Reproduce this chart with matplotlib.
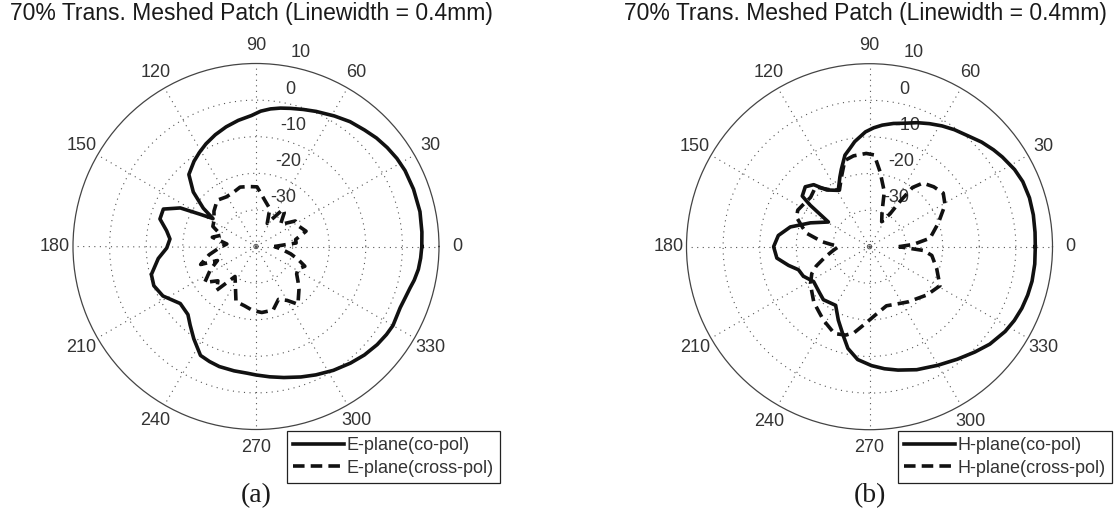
import numpy as np
import matplotlib
matplotlib.use("Agg")
import matplotlib.pyplot as plt
from matplotlib.lines import Line2D

plt.rcParams['font.family'] = ['Liberation Sans', 'DejaVu Sans']

# ---------------- data (angle in degrees, level in dB) ----------------
e_co_deg = [0, 5, 12, 20, 27, 32, 37, 42, 47, 53, 59, 66, 71, 76, 80, 84, 88, 92, 98, 104, 110, 116,
            121, 126, 133, 139, 144, 147, 150, 153, 158, 164, 170, 175, 181, 187, 195, 201, 208, 217,
            225, 230, 236, 243, 248, 253, 260, 266, 270, 276, 282, 289, 295, 302, 309, 315, 321, 326,
            330, 337, 341, 345, 348, 352, 356, 360]
e_co_db = [5.3, 5.5, 5.8, 5.8, 5.7, 5.4, 4.9, 4.3, 3.5, 2.7, 1.6, 0.4, -0.4, -1.1, -1.6, -2.2, -3.0,
           -4.2, -5.2, -6.3, -7.5, -8.8, -10.0, -11.2, -13.1, -17.3, -22.2, -26, -22.4, -16.8, -12.7,
           -12.7, -15.2, -16.4, -15.6, -13.1, -10.4, -10.1, -11.2, -14.1, -13.7, -12.0, -9.6, -6.6,
           -6.1, -5.7, -5.5, -5.3, -4.9, -4.2, -3.4, -2.3, -1.3, -0.1, 1.0, 1.9, 2.6, 3.0, 3.2, 2.8,
           3.1, 3.6, 4.2, 4.8, 5.1, 5.3]

e_x_deg = [0, 5, 10, 17, 25, 33, 42, 50, 54, 59, 64, 70, 79, 89, 97, 105, 113, 121, 130, 140,
           148, 155, 162, 168, 175, 182, 190, 198, 200, 207, 215, 222, 228, 235, 242, 250, 259, 267,
           275, 285, 293, 300, 306, 315, 320, 326, 332, 338, 343, 348, 354, 360]
e_x_db = [-35, -29, -29, -25.7, -27, -27.2, -31, -28, -27.4, -31, -33, -29, -27.2, -23.7, -23.5, -23.2,
          -24, -24.2, -23.5, -25, -26.5, -27, -30, -27.8, -32, -30, -27, -24.1, -28.8, -26, -22.9, -26,
          -23.9, -30, -28, -24, -23.5, -22.5, -21.9, -22, -24.3, -23, -20.5, -23.4, -25, -26.6, -27,
          -25.6, -28, -30.3, -33, -35]

h_co_deg = [0, 5, 11, 17, 23, 28, 34, 38, 43, 48, 54, 59, 64, 69, 74, 79, 84, 88, 92, 98, 101, 105,
            110, 113, 119, 127, 132, 137, 143, 145, 149, 158, 166, 173, 180, 187, 193, 198, 204, 212,
            223, 229, 240, 247, 254, 258, 264, 271, 277, 283, 291, 300, 308, 315, 321, 328, 333, 338,
            343, 348, 354, 360]
h_co_db = [5.3, 5.4, 5.6, 5.7, 5.5, 4.9, 3.8, 3.0, 1.9, 0.6, -0.5, -1.5, -2.6, -3.7, -4.9, -5.7, -6.6,
           -7.5, -8.6, -11, -12.5, -14.1, -17.5, -19.3, -22.4, -20.6, -17.2, -16, -17, -20.2, -26.9,
           -22.6, -17.7, -14.9, -13.8, -14.5, -17.3, -19.6, -20.2, -22, -21.4, -20.8, -21.5, -18.2,
           -14.4, -11.6, -9, -7.5, -6.4, -5.4, -4.0, -2.6, -1.0, 0.7, 2.3, 3.7, 4.4, 4.9, 5.2, 5.4,
           5.4, 5.3]

h_x_deg = [0, 3, 8, 19, 29, 36, 43, 50, 54, 56, 58, 64, 70, 75, 82, 87, 92, 100, 106, 112,
           118, 125, 132, 140, 148, 153, 158, 164, 168, 174, 180, 186, 193, 200, 205, 212, 218, 225,
           232, 238, 248, 255, 260, 267, 275, 286, 295, 305, 320, 331, 342, 352, 356, 360]
h_x_db = [-32, -28, -23.3, -20.1, -16.4, -15.1, -16, -17.3, -20, -25, -29.4, -32.4, -30, -24.4, -19.3,
          -14.9, -14.5, -14.8, -15.5, -19.5, -22.5, -21, -18, -19, -18.5, -18, -18.5, -21, -22.5, -27,
          -31.5, -30, -27.6, -24.5, -22.6, -21, -20, -18.5, -17.5, -16.3, -14.4, -15, -16.2, -19, -21.3,
          -23.2, -22.7, -21.6, -19.5, -18, -20.7, -22.8, -25.2, -32]

r_min, r_max = -40, 10
ring_values = [-30, -20, -10, 0, 10]
angle_ticks = list(range(0, 360, 30))

title_text = "70% Trans. Meshed Patch (Linewidth = 0.4mm)"
panels = [
    dict(co=(e_co_deg, e_co_db), x=(e_x_deg, e_x_db),
         labels=["E-plane(co-pol)", "E-plane(cross-pol)"], tag="(a)"),
    dict(co=(h_co_deg, h_co_db), x=(h_x_deg, h_x_db),
         labels=["H-plane(co-pol)", "H-plane(cross-pol)"], tag="(b)"),
]

# ---------------- layout (pixels) ----------------
W, H = 1119, 523
fig = plt.figure(figsize=(W / 100, H / 100), dpi=100)
R = 183
centers = [(256, 246.5), (869.5, 246.7)]
title_x = [251, 865]
legend_tl = [(287, 431), (898, 431)]

line_col = '#111111'
grid_col = '#555555'
txt_col = '#333333'
dash = (0, (3.2, 1.7))

for p, (cx, cy), tx, (lx, ly) in zip(panels, centers, title_x, legend_tl):
    ax = fig.add_axes([(cx - R) / W, (H - cy - R) / H, 2 * R / W, 2 * R / H], projection='polar')
    ax.set_ylim(r_min, r_max)
    ax.set_xticks([])
    ax.set_yticks([])
    ax.grid(False)
    ax.spines['polar'].set_linewidth(0.9)
    ax.spines['polar'].set_color('#444444')

    th = np.linspace(0, 2 * np.pi, 721)
    for rv in ring_values[:-1]:
        ax.plot(th, np.full_like(th, rv), color=grid_col, lw=0.8, ls=(0, (1, 4)), zorder=1)
    ax.plot(th, np.full_like(th, r_min + 0.6), color=grid_col, lw=0.7, zorder=1)
    for a in angle_ticks:
        ax.plot([np.deg2rad(a)] * 2, [r_min, r_max], color=grid_col, lw=0.8, ls=(0, (1, 4)), zorder=1)
        ax.text(np.deg2rad(a), r_max + 0.1 * (r_max - r_min), str(a), ha='center', va='center',
                fontsize=13, color=txt_col, clip_on=False)
    for rv in ring_values:
        ax.annotate(str(rv), xy=(np.deg2rad(82), rv), xytext=(9, 8), textcoords='offset pixels',
                    ha='left', va='baseline', fontsize=13, color=txt_col, annotation_clip=False)

    ax.plot(np.deg2rad(p['co'][0]), p['co'][1], color=line_col, lw=2.6, zorder=3,
            solid_joinstyle='round')
    ax.plot(np.deg2rad(p['x'][0]), p['x'][1], color=line_col, lw=2.6, ls=dash, zorder=3)

    fig.text(tx / W, 1 - 13.5 / H, title_text, ha='center', va='center', fontsize=16.5, color='#1a1a1a')
    fig.text(cx / W, 1 - 496 / H, p['tag'], ha='center', va='center', fontsize=20,
             family='Liberation Serif', color='#1a1a1a')

    handles = [Line2D([], [], color=line_col, lw=2.6),
               Line2D([], [], color=line_col, lw=2.6, ls=dash)]
    leg = fig.legend(handles, p['labels'], loc='upper left', bbox_to_anchor=(lx / W, 1 - ly / H),
                     bbox_transform=fig.transFigure, frameon=True, fancybox=False, framealpha=1,
                     edgecolor='#222222', fontsize=13, handlelength=2.8, handletextpad=0.15,
                     borderpad=0.35, labelspacing=0.3, borderaxespad=0)
    leg.get_frame().set_linewidth(0.9)
    for t in leg.get_texts():
        t.set_color(txt_col)

fig.savefig('out.png', dpi=100, facecolor='white')
